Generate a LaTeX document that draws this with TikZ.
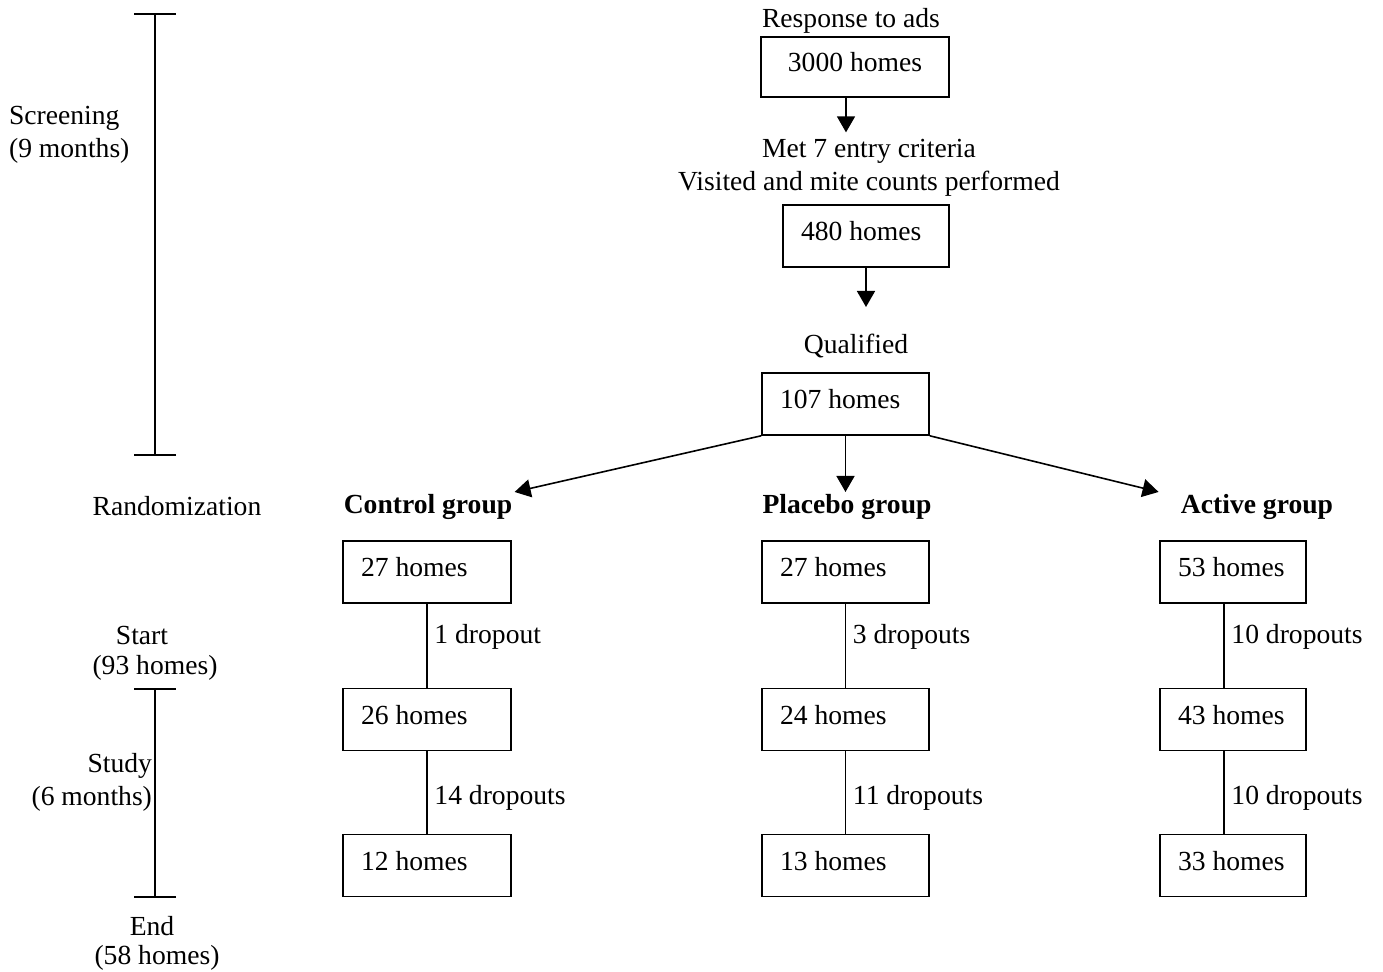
\documentclass[tikz,border=0pt]{standalone}
\usepackage{fontspec}
\setmainfont{Liberation Serif}
\usetikzlibrary{arrows.meta,positioning}

\newcommand{\diagfont}{\fontsize{13.8}{16.5}\selectfont}

\tikzset{
  topbox/.style={draw, line width=0.8pt, minimum width=94pt, minimum height=30pt, text depth=5pt},
  homebox/.style={draw, line width=0.8pt, minimum height=31pt, inner xsep=9pt, text depth=5pt,
    execute at begin node={\hbox to #1\bgroup}, execute at end node={\hfil\egroup}},
  grouplbl/.style={font=\diagfont\bfseries, inner sep=1pt},
  arr/.style={line width=0.8pt, -{Triangle[length=8pt,width=9pt]}},
  conn/.style={line width=0.8pt},
  span/.style={line width=0.8pt, {Bar[width=21pt]}-{Bar[width=21pt]}},
}

\begin{document}
\begin{tikzpicture}[x=0.5pt,y=-0.5pt,font=\diagfont]
\useasboundingbox (0,0) rectangle (1383,972);

% time line on the left
\draw[span] (155,13) -- (155,456);
\draw[span] (155,688) -- (155,898);
\node[anchor=west, align=left] (screen) at (2,135) {Screening\\(9 months)};
\node (random) at (177,506) {Randomization};
\node (start) at (142,636) {Start};
\node (starthomes) at (155,668) {(93 homes)};
\node[anchor=east, align=right] (study) at (159,782) {Study\\(6 months)};
\node (endlbl) at (152,926) {End};
\node (endhomes) at (157,958) {(58 homes)};

% screening
\node (resp) at (851,21) {Response to ads};
\node[topbox] (b3000) at (855,67) {3000 homes};
\node[align=center] (met) at (869,168) {Met 7 entry criteria\\Visited and mite counts performed};
\node[homebox=65pt] (b480) at (866,236) {480 homes};
\coordinate (qtip) at (866,307);
\node (qual) at (856,346) {Qualified};
\node[homebox=65.5pt] (b107) at (845.5,404) {107 homes};

\draw[arr] ([xshift=-4.5pt]b3000.south) -- ([xshift=-4.5pt]b3000.south |- met.north);
\draw[arr] (b480.south) -- (qtip);

% randomization
\node[grouplbl] (ctl) at (428,507) {Control group};
\node[grouplbl] (plc) at (847,507) {Placebo group};
\node[grouplbl] (act) at (1257,507) {Active group};

\draw[arr] (b107.south west) -- (ctl.north east);
\draw[arr] (b107.south) -- (b107.south |- plc.north);
\draw[arr] (b107.south east) -- ([xshift=-10pt]act.north west);

% control group
\node[homebox=66pt] (c1) at (427,572) {27 homes};
\node[homebox=66pt] (c2) at (427,719.5) {26 homes};
\node[homebox=66pt] (c3) at (427,865.5) {12 homes};
\draw[conn] (c1) -- node[right, pos=0.4] {1 dropout} (c2);
\draw[conn] (c2) -- node[right, pos=0.56] {14 dropouts} (c3);

% placebo group
\node[homebox=65.5pt] (p1) at (845.5,572) {27 homes};
\node[homebox=65.5pt] (p2) at (845.5,719.5) {24 homes};
\node[homebox=65.5pt] (p3) at (845.5,865.5) {13 homes};
\draw[conn] (p1) -- node[right, pos=0.4] {3 dropouts} (p2);
\draw[conn] (p2) -- node[right, pos=0.56] {11 dropouts} (p3);

% active group
\node[homebox=55pt] (a1) at (1233,572) {53 homes};
\node[homebox=55pt] (a2) at (1233,719.5) {43 homes};
\node[homebox=55pt] (a3) at (1233,865.5) {33 homes};
\draw[conn] ([xshift=-4.5pt]a1.south) -- node[right, pos=0.4] {10 dropouts} ([xshift=-4.5pt]a2.north);
\draw[conn] ([xshift=-4.5pt]a2.south) -- node[right, pos=0.56] {10 dropouts} ([xshift=-4.5pt]a3.north);
\end{tikzpicture}
\end{document}
